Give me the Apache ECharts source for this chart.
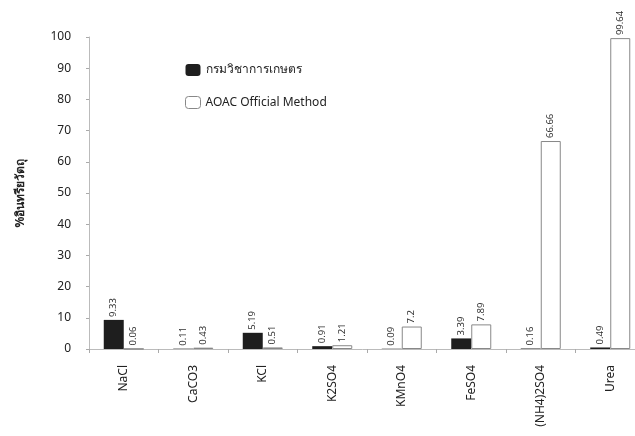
<!DOCTYPE html>
<html>
<head>
<meta charset="utf-8">
<script src="https://cdn.jsdelivr.net/npm/echarts@6/dist/echarts.min.js"></script>
<style>
  html, body { margin: 0; padding: 0; background: #fff; }
  #chart { width: 635px; height: 436px; }
</style>
</head>
<body>
<div id="chart"></div>
<script>
// Samples tested
const categories = ['NaCl', 'CaCO3', 'KCl', 'K2SO4', 'KMnO4', 'FeSO4', '(NH4)2SO4', 'Urea'];
// Organic matter (%) by method
const doaValues = [9.33, 0.11, 5.19, 0.91, 0.09, 3.39, 0.16, 0.49];
const aoacValues = [0.06, 0.43, 0.51, 1.21, 7.2, 7.89, 66.66, 99.64];
const seriesNames = ['กรมวิชาการเกษตร', 'AOAC Official Method'];
const yTicks = [0, 10, 20, 30, 40, 50, 60, 70, 80, 90, 100];

const fontStack = '"Noto Sans", "DejaVu Sans", "Liberation Sans", sans-serif';

const chart = echarts.init(document.getElementById('chart'), null, { renderer: 'canvas' });

const valueLabel = {
  show: true,
  position: 'top',
  rotate: 90,
  align: 'left',
  verticalAlign: 'middle',
  distance: 3,
  fontSize: 9.5,
  color: '#333',
  fontFamily: fontStack,
  formatter: p => String(p.value)
};

chart.setOption({
  backgroundColor: '#fff',
  animation: false,
  textStyle: { fontFamily: fontStack },
  // the plot runs slightly past the right edge of the canvas
  grid: { left: 89, top: 37, width: 556, height: 312, outerBoundsMode: 'none', containLabel: false },
  legend: {
    orient: 'vertical',
    left: 180,
    top: 59,
    itemWidth: 15,
    itemHeight: 12,
    itemGap: 20,
    textStyle: { fontSize: 12, color: '#222', fontFamily: fontStack },
    data: [
      { name: seriesNames[0], itemStyle: { color: '#1e1e1e' } },
      { name: seriesNames[1], itemStyle: { color: '#fff', borderColor: '#888', borderWidth: 1 } }
    ]
  },
  xAxis: {
    type: 'category',
    data: categories,
    axisLine: { show: true, lineStyle: { color: '#bbb', width: 1 } },
    axisTick: { show: true, length: 4, lineStyle: { color: '#aaa' } },
    axisLabel: {
      rotate: 90,
      margin: 16,
      fontSize: 12,
      color: '#222',
      fontFamily: fontStack
    }
  },
  yAxis: {
    type: 'value',
    min: yTicks[0],
    max: yTicks[yTicks.length - 1],
    interval: 10,
    name: '%อินทรียวัตถุ',
    nameLocation: 'middle',
    nameGap: 62,
    nameRotate: 90,
    nameTextStyle: { fontSize: 12, fontWeight: 'bold', color: '#222', fontFamily: fontStack },
    axisLine: { show: true, lineStyle: { color: '#bbb', width: 1 } },
    axisTick: { show: true, length: 3, lineStyle: { color: '#aaa' } },
    splitLine: { show: false },
    axisLabel: { fontSize: 12, color: '#222', margin: 18, fontFamily: fontStack }
  },
  series: [
    {
      name: seriesNames[0],
      type: 'bar',
      data: doaValues,
      barWidth: 20,
      barGap: '0%',
      itemStyle: { color: '#1e1e1e' },
      label: valueLabel
    },
    {
      name: seriesNames[1],
      type: 'bar',
      data: aoacValues,
      barWidth: 20,
      barGap: '0%',
      itemStyle: { color: '#fff', borderColor: '#888', borderWidth: 1 },
      label: valueLabel
    }
  ]
});
</script>
</body>
</html>
